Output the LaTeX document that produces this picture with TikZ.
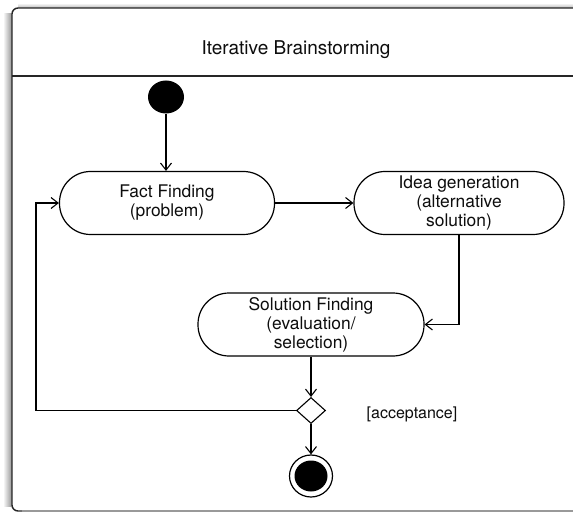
\documentclass[tikz,border=0pt]{standalone}
\usepackage{fontspec}
\setmainfont{TeX Gyre Heros}
\usetikzlibrary{arrows.meta,shapes.geometric}
\begin{document}
\begin{tikzpicture}[x=1pt,y=-1pt,
  activity/.style={draw, line width=1.2pt, rectangle, rounded corners=31pt,
    minimum height=63pt, align=center, inner sep=2pt, text=black!95,
    font=\fontsize{17.4}{19}\selectfont},
  flow/.style={line width=1.1pt, -{Straight Barb[length=7pt,width=11pt]}},
  frameline/.style={line width=1.4pt, black!85},
]
\clip (0,0) rectangle (573,513);
\fill[white] (0,0) rectangle (573,513);

% soft shadow along the left and top edges of the frame
\shade[left color=white, right color=black!40] (3,14) rectangle (11.5,506);
\shade[top color=white, bottom color=black!25] (18,3) rectangle (590,7.5);

% diagram frame with its name compartment
\draw[frameline, rounded corners=6pt] (590,511) -- (12,511) -- (12,8) -- (590,8);
\draw[line width=1.4pt, black!40] (22,511) -- (590,511);
\draw[frameline] (12,76) -- (590,76);
\node[anchor=base, font=\fontsize{19}{22}\selectfont, text=black!95] (title)
  at (296,55) {Iterative Brainstorming};

% initial node
\node[ellipse, fill=black, minimum width=36pt, minimum height=33pt, inner sep=0pt]
  (start) at (166,97) {};

% activities
\node[activity, minimum width=215pt] (fact) at (167,203) {Fact Finding\\(problem)};
\node[activity, minimum width=210pt] (idea) at (459,203)
  {Idea generation\\(alternative\\solution)};
\node[activity, minimum width=226pt] (sol) at (311,324.5)
  {Solution Finding\\(evaluation/\\selection)};

% decision node and its guard
\node[diamond, draw, line width=1.1pt, minimum width=29pt, minimum height=26pt,
  inner sep=0pt] (dec) at (311,410.5) {};
\node[anchor=base, font=\fontsize{16}{19}\selectfont, text=black!95] (guard)
  at (412,418) {[acceptance]};

% final node
\node[ellipse, draw, line width=1.2pt, minimum width=43pt, minimum height=42pt,
  inner sep=0pt] (final) at (311,476) {};
\fill (final.center) ellipse [x radius=16.5pt, y radius=15.5pt];

% control flows
\coordinate (loopc) at (36,410.5);
\draw[flow] (start.south) -- (start.south |- fact.north);
\draw[flow] (fact.east) -- (idea.west);
\draw[flow] (idea.south) |- (sol.east);
\draw[flow] (sol.south) -- (dec.north);
\draw[flow] (dec.south) -- (final.north);
\draw[flow] (dec.west) -- (loopc) |- (fact.west);
\end{tikzpicture}
\end{document}
